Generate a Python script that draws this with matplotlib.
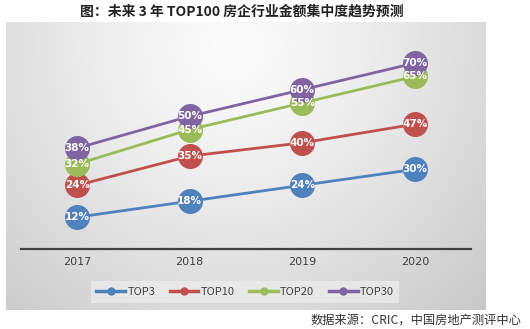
import matplotlib
matplotlib.use("Agg")
import matplotlib.pyplot as plt
import numpy as np

plt.rcParams['font.family'] = ['Noto Sans CJK SC', 'DejaVu Sans']

years = ["2017", "2018", "2019", "2020"]
series_names = ["TOP3", "TOP10", "TOP20", "TOP30"]
top3 = [12, 18, 24, 30]
top10 = [24, 35, 40, 47]
top20 = [32, 45, 55, 65]
top30 = [38, 50, 60, 70]
colors = ["#4F81BD", "#C0504D", "#9BBB59", "#8064A2"]
title = "图：未来 3 年 TOP100 房企行业金额集中度趋势预测"
source = "数据来源：CRIC，中国房地产测评中心"

W, H = 530, 329
fig = plt.figure(figsize=(W / 100, H / 100), dpi=100)
fig.patch.set_facecolor("white")

# background panel with gradient
px0, px1, py0, py1 = 6, 486, 22, 310
bg = fig.add_axes([px0 / W, 1 - py1 / H, (px1 - px0) / W, (py1 - py0) / H])
bg.set_axis_off()
gx = np.linspace(0, 1, 300)
gy = np.linspace(0, 1, 200)
X, Y = np.meshgrid(gx, gy)
d = np.sqrt(((X - 0.47) / 0.75) ** 2 + ((Y - 0.08) / 1.3) ** 2)
val = 0.985 - 0.20 * np.clip(d, 0, 1.2) ** 1.3
img = np.dstack([val, val, val * 1.005])
img = np.clip(img, 0, 1)
bg.imshow(img, aspect="auto", extent=[0, 1, 1, 0])
bg.set_xlim(0, 1)
bg.set_ylim(1, 0)

# main axes
ax_l, ax_r, ax_b = 21, 471, 249
ymax = 80
ppu = 2.655
ax_t = ax_b - ymax * ppu
ax = fig.add_axes([ax_l / W, 1 - ax_b / H, (ax_r - ax_l) / W, (ax_b - ax_t) / H])
ax.patch.set_alpha(0)
ax.set_xlim(-0.5, 3.5)
ax.set_ylim(0, ymax)
for s in ["top", "left", "right"]:
    ax.spines[s].set_visible(False)
ax.spines["bottom"].set_color("#404040")
ax.spines["bottom"].set_linewidth(1.6)
ax.set_yticks([])
x = np.arange(len(years))
ax.set_xticks(x)
ax.set_xticklabels(years, fontsize=8, color="#404040", family=["DejaVu Sans"])
ax.tick_params(axis="x", length=0, pad=6)

data = [top3, top10, top20, top30]
handles = []
for vals, c, name in zip(data, colors, series_names):
    ax.plot(x, vals, color=c, lw=2.0, zorder=2)
    ax.plot(x, vals, ls="none", marker="o", ms=17, mfc=c, mec=c, zorder=3)
    h, = ax.plot([], [], color=c, lw=2.5, marker="o", ms=5, label=name)
    handles.append(h)
for vals in data:
    for xi, v in zip(x, vals):
        ax.text(xi, v, f"{v}%", ha="center", va="center", fontsize=7.5,
                color="white", fontweight="bold", zorder=5, family=["DejaVu Sans"])

leg = fig.legend(handles=handles, loc="center", bbox_to_anchor=(245 / W, 1 - 292 / H),
                 ncol=4, frameon=True, fontsize=8, handlelength=2.6, handletextpad=0.2,
                 columnspacing=1.3, borderpad=0.5, fancybox=False)
leg.get_frame().set_facecolor("#ececec")
leg.get_frame().set_edgecolor("none")
for t in leg.get_texts():
    t.set_color("#404040")

fig.text(242 / W, 1 - 12 / H, title, ha="center", va="center", fontsize=10,
         fontweight="bold", color="#222222")
fig.text(521 / W, 1 - 320 / H, source, ha="right", va="center", fontsize=8.8,
         color="#333333")

fig.savefig("out.png", dpi=100)
